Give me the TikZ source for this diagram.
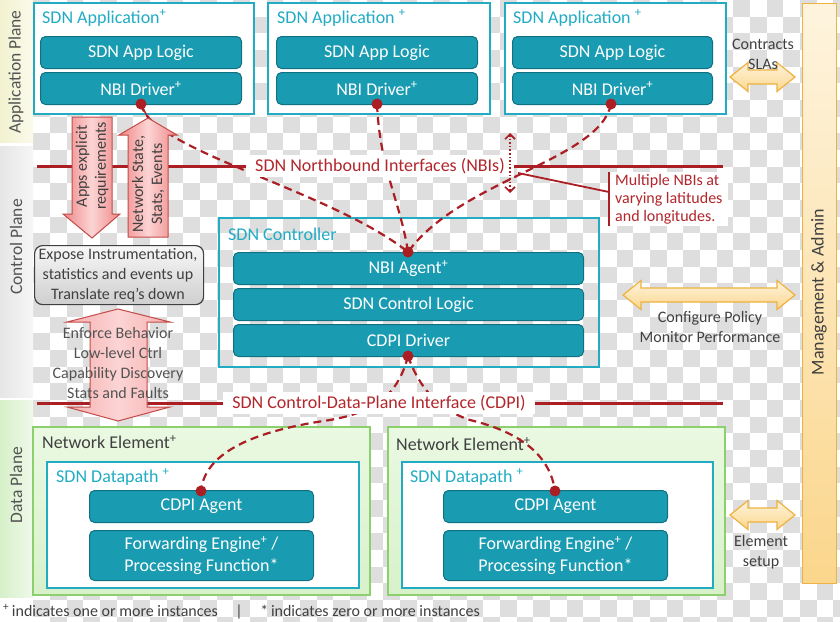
\documentclass[tikz,border=0pt]{standalone}
\usepackage{fontspec}
\setmainfont{Carlito}
\usetikzlibrary{arrows.meta,calc}
\definecolor{tealfill}{RGB}{25,155,177}
\definecolor{tealedge}{RGB}{17,112,130}
\definecolor{tealline}{RGB}{33,172,196}
\definecolor{dred}{RGB}{170,30,36}
\definecolor{redtxt}{RGB}{178,38,44}
\definecolor{chk}{RGB}{222,222,222}
\definecolor{dgray}{RGB}{64,64,64}
\definecolor{pinkA}{RGB}{238,135,135}
\definecolor{pinkB}{RGB}{252,212,212}
\definecolor{pinkC}{RGB}{246,175,175}
\definecolor{pinkedge}{RGB}{195,75,72}
\definecolor{orA}{RGB}{254,244,222}
\definecolor{orB}{RGB}{251,214,140}
\definecolor{oredge}{RGB}{238,178,66}
\definecolor{greenA}{RGB}{234,249,226}
\definecolor{greenB}{RGB}{216,241,202}
\definecolor{greenedge}{RGB}{140,208,110}
\newcommand\fs[2]{\fontsize{#1}{#2}\selectfont}
\newcommand\plusup{\textsuperscript{+}}
\newcommand\orarrow[3]{%
  \path[oarrow] (#1,#3) -- (#1+18,#3-14.5) -- (#1+18,#3-7) -- (#2-18,#3-7) -- (#2-18,#3-14.5) -- (#2,#3)
    -- (#2-18,#3+14.5) -- (#2-18,#3+7) -- (#1+18,#3+7) -- (#1+18,#3+14.5) -- cycle;}
\begin{document}
\begin{tikzpicture}[x=1pt,y=-1pt,
  bar/.style={draw=tealedge, line width=1pt, fill=tealfill, rounded corners=5pt, text=white,
    font=\fs{18}{22}, anchor=north west, inner sep=0pt, align=center},
  appbox/.style={draw=tealline, line width=2pt, fill=white, anchor=north west, inner sep=0pt},
  boxtitle/.style={anchor=west, text=tealline, font=\fs{18}{22}, inner sep=0pt},
  netbox/.style={draw=greenedge, line width=1.5pt, top color=greenA, bottom color=greenB, anchor=north west, inner sep=0pt},
  ifline/.style={draw=dred, line width=3pt},
  iflabel/.style={fill=white, text=redtxt, font=\fs{18}{22}, inner xsep=9pt, inner ysep=3pt},
  dashcon/.style={draw=dred, line width=2.2pt, dash pattern=on 8pt off 5pt},
  dotmark/.style={fill=dred},
  pinkarrow/.style={draw=pinkedge, line width=1pt, left color=pinkA, right color=pinkA, middle color=pinkB},
  oarrow/.style={draw=oredge, line width=1.2pt, top color=orA, bottom color=orB},
  note/.style={text=dgray, font=\fs{16}{20}, align=center},
  planelabel/.style={rotate=90, text=dgray!90, font=\fs{17.5}{20}}
]
\useasboundingbox (0,0) rectangle (840,621);
\fill[white] (0,0) rectangle (840,621);
% checkerboard background
\begin{scope}
\clip (33,0) rectangle (840,621);
\foreach \i in {1,...,50}{\foreach \j in {0,...,37}{%
  \pgfmathparse{int(mod(\i+\j,2))}%
  \ifnum\pgfmathresult=0 \fill[chk] ({\i*16.667},{\j*16.667}) rectangle ++(16.667,16.667);\fi}}
\end{scope}
% plane strips
\shade[left color={rgb,255:red,242;green,242;blue,208}, right color={rgb,255:red,250;green,250;blue,236}] (0,0) rectangle (33,142);
\shade[left color={rgb,255:red,230;green,230;blue,230}, right color={rgb,255:red,246;green,246;blue,246}] (0,146) rectangle (33,397);
\shade[left color={rgb,255:red,214;green,240;blue,200}, right color={rgb,255:red,240;green,249;blue,235}] (0,400) rectangle (33,597);
\node[planelabel] (pa) at (16,72) {Application Plane};
\node[planelabel] (pc) at (16,247) {Control Plane};
\node[planelabel] (pd) at (16,485) {Data Plane};
% management bar
\node[draw=oredge, line width=1.2pt, top color=orA, bottom color=orB, anchor=north west, minimum width=34pt, minimum height=580pt, inner sep=0pt] (mgmt) at (802,3) {};
\node[rotate=90, text=dgray, font=\fs{18}{22}] (mgmtt) at (819,292) {Management \& Admin};
% application boxes
\node[appbox, minimum width=220pt, minimum height=111pt] (app1) at (33,2) {};
\node[boxtitle] (t1) at (42,18) {SDN Application\plusup};
\node[bar, minimum width=201pt, minimum height=32pt] (al1) at (40,36) {SDN App Logic};
\node[bar, minimum width=201pt, minimum height=32pt] (nd1) at (40,72) {NBI Driver\plusup};
\node[appbox, minimum width=222pt, minimum height=111pt] (app2) at (267,2) {};
\node[boxtitle] (t2) at (277,18) {SDN Application \plusup};
\node[bar, minimum width=201pt, minimum height=32pt] (al2) at (276,36) {SDN App Logic};
\node[bar, minimum width=201pt, minimum height=32pt] (nd2) at (276,72) {NBI Driver\plusup};
\node[appbox, minimum width=221pt, minimum height=111pt] (app3) at (504,2) {};
\node[boxtitle] (t3) at (513,18) {SDN Application \plusup};
\node[bar, minimum width=200pt, minimum height=32pt] (al3) at (512,36) {SDN App Logic};
\node[bar, minimum width=200pt, minimum height=32pt] (nd3) at (512,72) {NBI Driver\plusup};
% controller
\node[draw=tealline, line width=1.5pt, anchor=north west, minimum width=380pt, minimum height=149pt, inner sep=0pt] (ctrl) at (218,217) {};
\node[boxtitle] (tc) at (228,234) {SDN Controller};
\node[bar, minimum width=350pt, minimum height=32pt] (na) at (233,252) {NBI Agent\plusup};
\node[bar, minimum width=350pt, minimum height=32pt] (cl) at (233,288) {SDN Control Logic};
\node[bar, minimum width=350pt, minimum height=32pt] (cdr) at (233,324) {CDPI Driver};
% network elements
\node[netbox, minimum width=337pt, minimum height=168pt] (ne1) at (32,426) {};
\node[anchor=west, text=dgray, font=\fs{18}{22}, inner sep=0pt] (ne1t) at (42,442) {Network Element\plusup};
\node[appbox, minimum width=312pt, minimum height=126pt] (dp1) at (46,461) {};
\node[boxtitle] (dp1t) at (56,477) {SDN Datapath \plusup};
\node[bar, minimum width=224pt, minimum height=32pt] (ag1) at (89,490) {CDPI Agent};
\node[bar, minimum width=224pt, minimum height=50pt] (fw1) at (89,530) {Forwarding Engine\plusup\ /\\Processing Function*};
\node[netbox, minimum width=337pt, minimum height=168pt] (ne2) at (387,426) {};
\node[anchor=west, text=dgray, font=\fs{18}{22}, inner sep=0pt] (ne2t) at (396,444) {Network Element\plusup};
\node[appbox, minimum width=311pt, minimum height=126pt] (dp2) at (401,461) {};
\node[boxtitle] (dp2t) at (410,477) {SDN Datapath \plusup};
\node[bar, minimum width=224pt, minimum height=32pt] (ag2) at (443,490) {CDPI Agent};
\node[bar, minimum width=224pt, minimum height=50pt] (fw2) at (443,530) {Forwarding Engine\plusup\ /\\Processing Function*};
% connection points
\coordinate (d1) at (141,104);
\coordinate (d2) at (377,104);
\coordinate (d3) at (611,104);
\coordinate (dna) at (408,252);
\coordinate (dcd) at (408,356);
\coordinate (da1) at (201,491);
\coordinate (da2) at (555,491);
% interface lines
\draw[ifline] (37,166) -- (723,166);
\draw[ifline] (37,403) -- (723,403);
% dashed connectors
\draw[dashcon] (d1) .. controls (150,150) and (330,190) .. (dna);
\draw[dashcon] (d2) .. controls (380,170) and (400,200) .. (dna);
\draw[dashcon] (d3) .. controls (600,160) and (460,180) .. (dna);
\draw[dashcon] (dcd) .. controls (398,395) and (375,412) .. (330,420) .. controls (260,430) and (205,450) .. (da1);
\draw[dashcon] (dcd) .. controls (420,390) and (440,410) .. (470,420) .. controls (520,432) and (550,455) .. (da2);
% interface labels
\node[iflabel] (nbi) at (380,166) {SDN Northbound Interfaces (NBIs)};
\node[iflabel] (cdpi) at (379,403) {SDN Control-Data-Plane Interface (CDPI)};
% dotted double arrow
\coordinate (vt) at (510,133);
\coordinate (vb) at (510,193);
\draw[draw=dred, line width=1.6pt, dotted, {Straight Barb[length=5pt,width=10pt,line width=1.6pt]}-{Straight Barb[length=5pt,width=10pt,line width=1.6pt]}] (vt) -- (vb);
% multiple NBIs note
\node[fill=white, text=redtxt, font=\fs{16}{18}, align=left, anchor=north west, inner xsep=6pt, inner ysep=2pt] (mn) at (609,172) {Multiple NBIs at\\varying latitudes\\and longitudes.};
\draw[draw=dred, line width=1.8pt] (mn.north west) -- (mn.south west);
\coordinate (mnc) at (609,192);
\coordinate (nbic) at (518,173);
\draw[draw=dred, line width=1.8pt] (nbic) -- (mnc);
% pink arrows (application <-> control)
\path[pinkarrow] (72,117) -- (112,117) -- (112,214) -- (120,214) -- (92,238) -- (63,214) -- (72,214) -- cycle;
\node[rotate=90, text=dgray, font=\fs{16}{19}, align=center] (apr) at (92,166) {Apps explicit\\requirements};
\path[pinkarrow] (148,118) -- (177,135) -- (168,135) -- (168,237) -- (128,237) -- (128,135) -- (119,135) -- cycle;
\node[rotate=90, text=dgray, font=\fs{16}{19}, align=center] (nse) at (148,184) {Network State,\\Stats, Events};
\draw[draw=dred, line width=1.5pt] (d1) -- (148,118);
% expose box
\node[draw=dgray, line width=1.2pt, rounded corners=8pt, top color=gray!6, bottom color=gray!38, anchor=north west, minimum width=169pt, minimum height=59pt, inner sep=0pt] (expose) at (34,245) {};
\node[text=dgray, font=\fs{16}{20}, align=center] (exposet) at (118,275) {Expose Instrumentation,\\statistics and events up\\Translate req’s down};
% pink double arrow (control <-> data)
\path[draw=pinkedge, line width=1pt, left color=pinkC, right color=pinkC, middle color=pinkB]
  (118,309) -- (170,322) -- (147,322) -- (147,407) -- (170,407) -- (118,421) -- (67,407) -- (90,407) -- (90,322) -- (67,322) -- cycle;
\node[text=dgray!90, font=\fs{16}{20}, align=center] (enf) at (118,363) {Enforce Behavior\\Low-level Ctrl\\Capability Discovery\\Stats and Faults};
% dots
\foreach \p in {d1,d2,d3,dna,dcd,da1,da2} \fill[dotmark] (\p) circle (5.5);
% orange arrows and notes
\orarrow{730}{795}{77}
\node[note] (contracts) at (763,54) {Contracts\\SLAs};
\orarrow{623}{795}{295}
\node[note] (policy) at (710,327) {Configure Policy\\Monitor Performance};
\orarrow{730}{795}{515}
\node[note] (esetup) at (761,552) {Element\\setup};
% footnote
\node[anchor=west, text=dgray, font=\fs{16}{20}, inner sep=0pt] (fn) at (3,612) {\plusup\,indicates one or more instances\hspace{1.1em}|\hspace{1.1em}*\,indicates zero or more instances};
\end{tikzpicture}
\end{document}
